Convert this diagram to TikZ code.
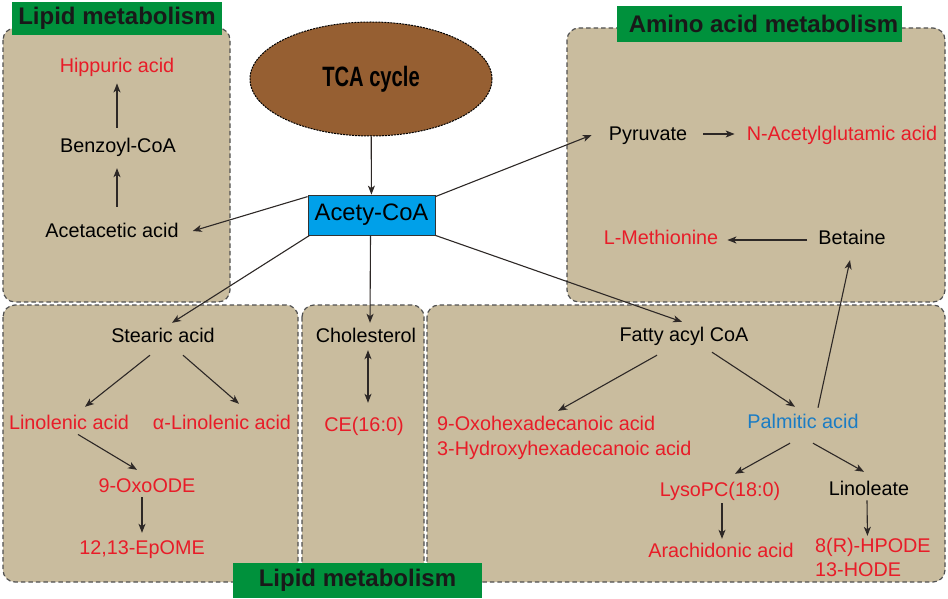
\documentclass[tikz,border=0pt]{standalone}
\usepackage{fontspec}
\setmainfont{Liberation Sans}
\newfontfamily\narrowf[FakeStretch=0.72]{Liberation Sans}
\usetikzlibrary{arrows.meta,shapes.geometric}
\definecolor{tanc}{RGB}{201,188,158}
\definecolor{boxline}{RGB}{80,80,80}
\definecolor{brownc}{RGB}{150,95,50}
\definecolor{greenc}{RGB}{0,145,60}
\definecolor{cyanc}{RGB}{0,160,233}
\definecolor{redc}{RGB}{232,28,40}
\definecolor{bluec}{RGB}{26,124,196}
\definecolor{arrowc}{RGB}{45,40,38}
\tikzset{
  region/.style={fill=tanc, draw=boxline, line width=1.2pt, dash pattern=on 4.5pt off 3pt, rounded corners=12pt},
  glabel/.style={fill=greenc, inner sep=0pt, font=\fontsize{24}{28}\selectfont\bfseries, text=black!90},
  txt/.style={inner sep=1pt, text height=14.5pt, text depth=4pt, font=\fontsize{19.8}{23}\selectfont, text=black},
  rtxt/.style={txt, text=redc},
  btxt/.style={txt, text=bluec},
  arr/.style={draw=arrowc, line width=1.1pt, -{Stealth[length=9pt,width=7pt,inset=2.5pt]}},
  darr/.style={draw=arrowc, line width=1.1pt, {Stealth[length=9pt,width=7pt,inset=2.5pt]}-{Stealth[length=9pt,width=7pt,inset=2.5pt]}}
}
\begin{document}
\begin{tikzpicture}[x=1pt,y=-1pt]
\useasboundingbox (0,0) rectangle (948,599);
% regions
\draw[region] (3,28) rectangle (230,302);
\draw[region] (567,28) rectangle (945,302);
\draw[region] (3,305) rectangle (298,582);
\draw[region] (302,305) rectangle (424,582);
\draw[region] (427,305) rectangle (945,582);
% labels
\node[glabel, minimum width=210pt, minimum height=33pt] (lab1) at (117,18.5) {Lipid metabolism};
\node[glabel, minimum width=285pt, minimum height=36pt] (lab2) at (759.5,24) {\hspace{8pt}Amino acid metabolism};
\node[glabel, minimum width=249pt, minimum height=35pt] (lab3) at (357.5,580.5) {Lipid metabolism};
% central nodes
\node[ellipse, minimum width=242pt, minimum height=114pt, inner sep=0pt, fill=brownc, draw=black, line width=1pt, dash pattern=on 2pt off 1pt, font=\fontsize{28}{31}\selectfont\narrowf\bfseries] (tca) at (371,79) {TCA cycle};
\node[rectangle, minimum width=127pt, minimum height=40pt, inner sep=0pt, fill=cyanc, draw=black!80, line width=0.8pt, font=\fontsize{23.8}{27}\selectfont] (acoa) at (371.5,215) {Acety-CoA};
% top-left region
\node[rtxt] (hipp) at (117,67) {Hippuric acid};
\node[txt] (benz) at (118,147) {Benzoyl-CoA};
\node[txt] (acet) at (112,232) {Acetacetic acid};
% top-right region
\node[txt] (pyr) at (648,135) {Pyruvate};
\node[rtxt] (nag) at (842,135) {N-Acetylglutamic acid};
\node[rtxt] (lmet) at (661,239) {L-Methionine};
\node[txt] (bet) at (852,239) {Betaine};
% bottom-left region
\node[txt] (stear) at (163,337) {Stearic acid};
\node[rtxt] (linol) at (69,424) {Linolenic acid};
\node[rtxt] (alin) at (222,424) {α-Linolenic acid};
\node[rtxt] (oxoode) at (147,487) {9-OxoODE};
\node[rtxt] (epome) at (142,549) {12,13-EpOME};
% middle region
\node[txt] (chol) at (366,337) {Cholesterol};
\node[rtxt] (ce) at (364,426) {CE(16:0)};
% bottom-right region
\node[txt] (fatty) at (684,336) {Fatty acyl CoA};
\node[rtxt, anchor=west] (oxohex1) at (436,425) {9-Oxohexadecanoic acid};
\node[rtxt, anchor=west] (oxohex2) at (436,450) {3-Hydroxyhexadecanoic acid};
\node[btxt] (palm) at (803,423) {Palmitic acid};
\node[rtxt] (lyso) at (720,491) {LysoPC(18:0)};
\node[txt] (linoleate) at (869,490) {Linoleate};
\node[rtxt] (arach) at (721,552) {Arachidonic acid};
\node[rtxt, anchor=west] (hpode1) at (814,547) {8(R)-HPODE};
\node[rtxt, anchor=west] (hpode2) at (814,571) {13-HODE};
% connectors
\draw[arr] (tca) -- (acoa);
\draw[arr] ([yshift=-2pt]acoa.north west) -- ([xshift=13pt,yshift=1pt]acet.east);
\draw[arr] ([xshift=5pt,yshift=14.75pt]acet.north) -- ([xshift=-1pt,yshift=-10.75pt]benz.south);
\draw[arr] ([xshift=-1pt,yshift=8.75pt]benz.north) -- ([yshift=-6pt]hipp.south);
\draw[arr] ([yshift=-2pt]acoa.north east) -- ([xshift=-16pt]pyr.west);
\draw[arr] ([xshift=15pt,yshift=1pt]pyr.east) -- ([xshift=-11pt,yshift=1pt]nag.west);
\draw[arr] ([xshift=-10pt,yshift=-1pt]bet.west) -- ([xshift=8pt,yshift=-1pt]lmet.east);
\draw[arr] ([xshift=15pt,yshift=4.75pt]palm.north) -- ([xshift=-2pt,yshift=-10.75pt]bet.south);
\draw[arr] ([xshift=2pt]acoa.south west) -- ([xshift=9pt,yshift=3.75pt]stear.north);
\draw[arr] ([xshift=-1pt]acoa.south) -- ([xshift=4pt,yshift=3.75pt]chol.north);
\draw[arr] (acoa.south east) -- ([xshift=-2pt,yshift=3.75pt]fatty.north);
\draw[arr] ([xshift=-13pt,yshift=-7.75pt]stear.south) -- ([xshift=16pt,yshift=6.75pt]linol.north);
\draw[arr] ([xshift=20pt,yshift=-7.75pt]stear.south) -- ([xshift=17pt,yshift=9.75pt]alin.north);
\draw[arr] ([xshift=9pt]linol.south) -- ([xshift=-10pt,yshift=6.75pt]oxoode.north);
\draw[arr] ([xshift=-5pt]oxoode.south) -- ([yshift=5.75pt]epome.north);
\draw[darr] ([xshift=2pt,yshift=-2.75pt]chol.south) -- ([xshift=4pt,yshift=12.75pt]ce.north);
\draw[arr] ([xshift=-27pt,yshift=-8.75pt]fatty.south) -- ([xshift=12pt,yshift=3.75pt]oxohex1.north);
\draw[arr] ([xshift=28pt,yshift=-5.75pt]fatty.south) -- ([xshift=-8pt,yshift=5.75pt]palm.north);
\draw[arr] ([xshift=-13pt,yshift=-9.75pt]palm.south) -- ([xshift=15pt,yshift=6.75pt]lyso.north);
\draw[arr] ([xshift=10pt,yshift=-9.75pt]palm.south) -- ([xshift=-5pt,yshift=7.75pt]linoleate.north);
\draw[arr] ([xshift=2pt,yshift=-1.75pt]lyso.south) -- ([xshift=1pt,yshift=2.75pt]arach.north);
\draw[arr] ([xshift=-2pt]linoleate.south) -- ([xshift=-5.5pt,yshift=0.75pt]hpode1.north);
\end{tikzpicture}
\end{document}
